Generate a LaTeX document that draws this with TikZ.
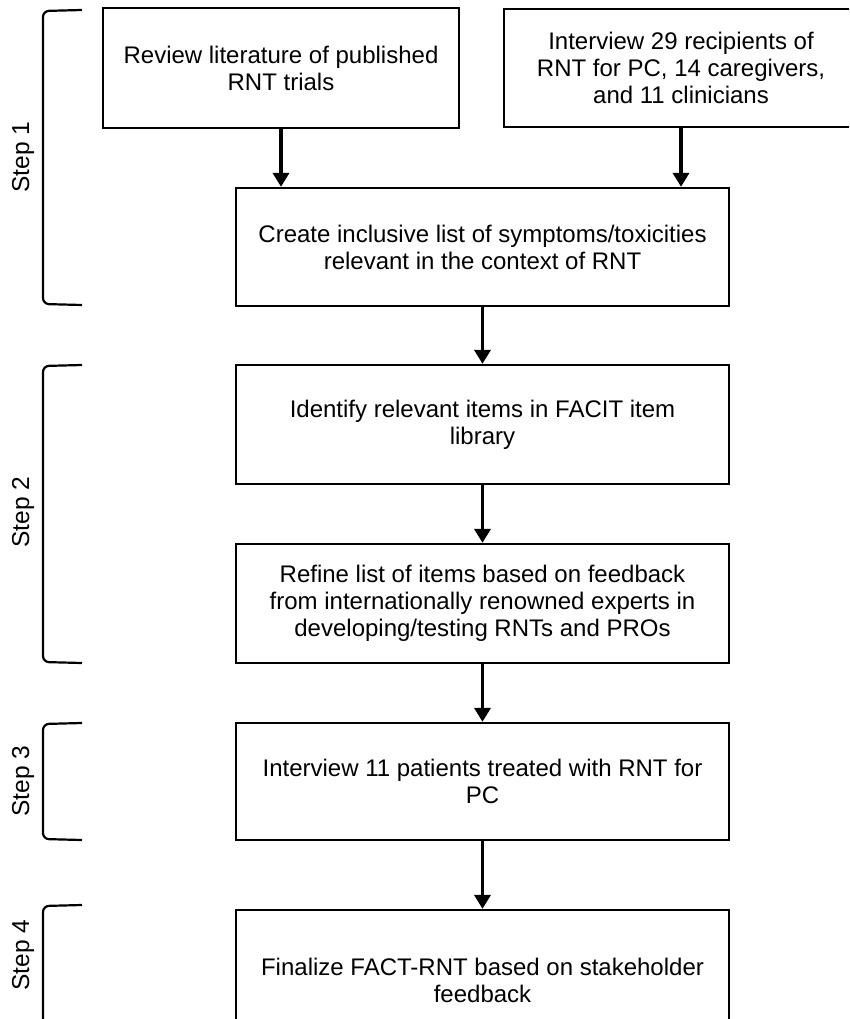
\documentclass[tikz,border=0pt]{standalone}
\usepackage{fontspec}
\setmainfont{Liberation Sans}
\usetikzlibrary{arrows.meta}
\begin{document}
\begin{tikzpicture}[x=1pt,y=-1pt,
  box/.style={draw=black,line width=2.3pt,fill=white,inner sep=0pt,align=center,
    font=\fontsize{24}{27}\selectfont,minimum width=493pt,minimum height=118pt},
  flow/.style={line width=3.6pt,-{Triangle[length=14pt,width=16pt]}},
  brk/.style={line width=2.2pt,rounded corners=6pt},
  steplbl/.style={rotate=90,font=\fontsize{24.5}{28}\selectfont,inner sep=0pt}]
\useasboundingbox (0,0) rectangle (849,1019);
\clip (0,0) rectangle (849,1019);
% boxes
\node[box,minimum width=356pt,minimum height=120pt] (A) at (281,68)
  {Review literature of published\\RNT trials};
\node[box,minimum width=354pt,minimum height=118pt] (B) at (681,68)
  {Interview 29 recipients of\\RNT for PC, 14 caregivers,\\and 11 clinicians};
\node[box] (C) at (482.5,247)
  {Create inclusive list of symptoms/toxicities\\relevant in the context of RNT};
\node[box,minimum height=119pt] (D) at (482.5,424.5)
  {Identify relevant items in FACIT item\\library};
\node[box,minimum height=119pt] (E) at (482.5,603.5)
  {Refine list of items based on feedback\\from internationally renowned experts in\\developing/testing RNTs and PROs};
\node[box,minimum height=117pt] (F) at (482.5,781.5)
  {Interview 11 patients treated with RNT for\\PC};
\node[box,minimum height=140pt] (G) at (482.5,980)
  {Finalize FACT-RNT based on stakeholder\\feedback};
% connectors
\draw[flow] (A.south) -- (A.south |- C.north);
\draw[flow] (B.south) -- (B.south |- C.north);
\draw[flow] (C) -- (D);
\draw[flow] (D) -- (E);
\draw[flow] (E) -- (F);
\draw[flow] (F) -- (G);
% brackets
\draw[brk] (82,10) -- (43,11) -- (43,304) -- (82,305);
\draw[brk] (82,365) -- (43,366) -- (43,662) -- (82,663);
\draw[brk] (82,723) -- (43,724) -- (43,839) -- (82,840);
\draw[brk] (82,905) -- (43,906) -- (43,1060);
% step labels
\node[steplbl] (s1) at (23,157) {Step 1};
\node[steplbl] (s2) at (23,512) {Step 2};
\node[steplbl] (s3) at (23,781) {Step 3};
\node[steplbl] (s4) at (23,955) {Step 4};
\end{tikzpicture}
\end{document}
